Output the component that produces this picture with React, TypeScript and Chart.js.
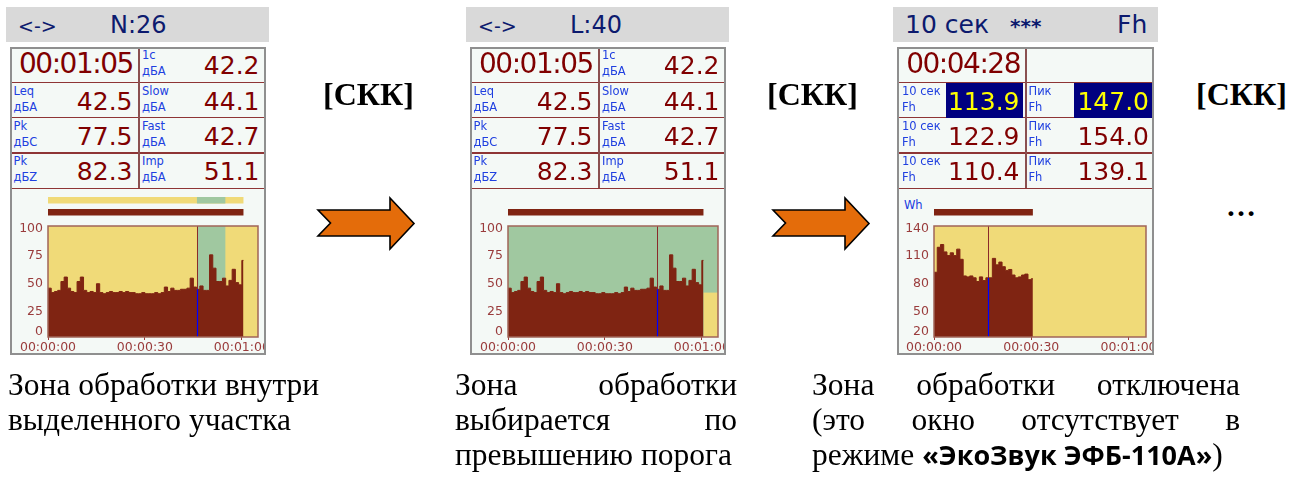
import React, { useEffect, useRef } from "react";
import { Chart, registerables } from "chart.js";

Chart.register(...registerables);

// ---------------- data ----------------
const SECONDS_A = [0, 1, 2, 3, 4, 5, 6, 7, 8, 9, 10, 11, 12, 13, 14, 15, 16, 17, 18, 19, 20, 21, 22, 23, 24, 25, 26, 27, 28, 29, 30, 31, 32, 33, 34, 35, 36, 37, 38, 39, 40, 41, 42, 43, 44, 45, 46, 47, 48, 49, 50, 51, 52, 53, 54, 55, 56, 57, 58, 59, 60];
const LEVELS_A = [44, 40, 41, 42, 50, 54, 44, 41, 40, 50, 54, 42, 40, 41, 40, 48, 40, 39, 40, 41, 40, 40, 41, 40, 41, 40, 40, 39, 39, 40, 39, 39, 39, 40, 39, 40, 45, 41, 44, 42, 42, 43, 43, 44, 53, 45, 43, 46, 42, 42, 74, 62, 50, 50, 53, 46, 51, 61, 49, 47, 69];
const END_A = 60.5;
const CURSOR_A = 46.1;
const ZONE_A = [46.1, 54.9];
const THRESHOLD_B = 40;
const X_MAX_A = 65;
const Y_TICKS_A = [0, 25, 50, 75, 100];

const SECONDS_C = [0, 1, 2, 3, 4, 5, 6, 7, 8, 9, 10, 11, 12, 13, 14, 15, 16, 17, 18, 19, 20, 21, 22, 23, 24, 25, 26, 27, 28, 29, 30];
const LEVELS_C = [90, 117, 120, 112, 108, 111, 108, 115, 104, 86, 85, 86, 84, 80, 85, 81, 84, 84, 105, 98, 101, 96, 92, 93, 87, 84, 85, 87, 88, 82, 83];
const END_C = 30.5;
const CURSOR_C = 16.7;
const X_MAX_C = 65.4;
const Y_TICKS_C = [20, 50, 80, 110, 140];

const X_TICKS = [0, 30, 60];
const X_TICK_LABELS = ["00:00:00", "00:00:30", "00:01:00"];

// table texts
const ROWS_A = [
  { l1: "Leq", l2: "дБА", v: "42.5", r1: "Slow", r2: "дБА", rv: "44.1" },
  { l1: "Pk", l2: "дБС", v: "77.5", r1: "Fast", r2: "дБА", rv: "42.7" },
  { l1: "Pk", l2: "дБZ", v: "82.3", r1: "Imp", r2: "дБА", rv: "51.1" },
];
const ROWS_C = [
  { l1: "10 сек", l2: "Fh", v: "113.9", r1: "Пик", r2: "Fh", rv: "147.0" },
  { l1: "10 сек", l2: "Fh", v: "122.9", r1: "Пик", r2: "Fh", rv: "154.0" },
  { l1: "10 сек", l2: "Fh", v: "110.4", r1: "Пик", r2: "Fh", rv: "139.1" },
];

// ---------------- styles ----------------
const SANS = '"DejaVu Sans", sans-serif';
const SERIF = '"Liberation Serif", "Times New Roman", serif';
const OSANS = '"Open Sans", sans-serif';
const PANEL_BG = "#F4F9F6";
const HEAD_BG = "#D9D9D9";
const NAVY = "#0C1A6E";
const MAROON = "#800000";
const BLUE = "#2040E0";
const RULE = "#8E3535";
const BORDER = "#8F8F8F";
const YELLOW = "#F0DA78";
const GREEN = "#A0C8A0";
const DARK = "#7F2412";
const AXIS = "#9A3C3C";
const PLOT_BORDER = "#A06458";

function Txt(p: any) {
  const { x, base, size, family = SANS, color = "#000", weight = 400, align = "left", ls, children } = p;
  const k = family === SERIF ? 0.8375 : family === OSANS ? 0.888 : 0.846;
  const style: any = {
    position: "absolute",
    top: base - size * k,
    fontFamily: family,
    fontSize: size,
    lineHeight: size + "px",
    color,
    fontWeight: weight,
    whiteSpace: "pre",
    letterSpacing: ls,
  };
  if (align === "right") {
    style.left = x - 400;
    style.width = 400;
    style.textAlign = "right";
  } else style.left = x;
  return <div style={style}>{children}</div>;
}

function Box(p: any) {
  const { x, y, w, h, bg, border } = p;
  return (
    <div
      style={{
        position: "absolute",
        left: x,
        top: y,
        width: w,
        height: h,
        background: bg,
        border,
        boxSizing: "border-box",
      }}
    />
  );
}

function Trend(p: any) {
  const ref = useRef<HTMLCanvasElement>(null);
  useEffect(() => {
    const { seconds, levels, end, cursor, yMin, yMax, yTicks, xMax, zones, bars, yAxisW, padRight } = p;
    const pts = seconds.map((s: number, i: number) => ({ x: s, y: levels[i] }));
    pts.push({ x: end, y: levels[levels.length - 1] });
    const cursorLevel = levels[Math.floor(cursor)];
    const plugin = {
      id: "panelDecor",
      beforeDatasetsDraw(chart: any) {
        const { ctx, chartArea: a, scales } = chart;
        const xs = scales.x, ys = scales.y;
        ctx.save();
        ctx.fillStyle = YELLOW;
        ctx.fillRect(a.left, a.top, a.right - a.left, a.bottom - a.top);
        for (const z of zones) {
          const x0 = xs.getPixelForValue(z.x0), x1 = xs.getPixelForValue(z.x1);
          const y0 = ys.getPixelForValue(z.y1), y1 = ys.getPixelForValue(z.y0);
          ctx.fillStyle = z.color;
          ctx.fillRect(x0, y0, x1 - x0, y1 - y0);
        }
        ctx.restore();
      },
      afterDatasetsDraw(chart: any) {
        const { ctx, chartArea: a, scales } = chart;
        const xs = scales.x, ys = scales.y;
        ctx.save();
        // cursor
        const cx = Math.round(xs.getPixelForValue(cursor)) + 0.5;
        const cy = ys.getPixelForValue(cursorLevel);
        ctx.lineWidth = 1;
        ctx.strokeStyle = "#8A2A2A";
        ctx.beginPath();
        ctx.moveTo(cx, a.top);
        ctx.lineTo(cx, cy);
        ctx.stroke();
        ctx.strokeStyle = "#0000FF";
        ctx.lineWidth = 1.2;
        ctx.beginPath();
        ctx.moveTo(cx, cy);
        ctx.lineTo(cx, a.bottom);
        ctx.stroke();
        // plot border
        ctx.strokeStyle = PLOT_BORDER;
        ctx.lineWidth = 1.5;
        ctx.strokeRect(a.left, a.top, a.right - a.left, a.bottom - a.top);
        // overview bars
        for (const b of bars) {
          const x0 = xs.getPixelForValue(b.x0), x1 = xs.getPixelForValue(b.x1);
          const top = a.top - (b.row === 0 ? 29 : 17);
          ctx.fillStyle = b.color;
          ctx.fillRect(x0, top, x1 - x0, 6.5);
        }
        // y labels
        ctx.fillStyle = AXIS;
        ctx.font = '12.5px "DejaVu Sans"';
        ctx.textAlign = "right";
        ctx.textBaseline = "middle";
        for (const v of yTicks) {
          const py = Math.min(ys.getPixelForValue(v) + 2.3, a.bottom - 5);
          ctx.fillText(String(v), a.left - 5, py);
        }
        ctx.restore();
      },
    };
    const chart = new Chart(ref.current as HTMLCanvasElement, {
      type: "line",
      data: {
        datasets: [
          {
            data: pts,
            stepped: true,
            fill: "start",
            backgroundColor: DARK,
            borderColor: DARK,
            borderWidth: 1,
            pointRadius: 0,
          } as any,
        ],
      },
      options: {
        responsive: false,
        animation: false,
        devicePixelRatio: 1,
        events: [],
        layout: { padding: { top: 36, right: padRight, left: 0, bottom: 0 } },
        plugins: { legend: { display: false }, tooltip: { enabled: false } },
        scales: {
          x: {
            type: "linear",
            min: 0,
            max: xMax,
            afterBuildTicks: (s: any) => {
              s.ticks = X_TICKS.map((v) => ({ value: v }));
            },
            ticks: {
              autoSkip: false,
              maxRotation: 0,
              minRotation: 0,
              padding: 0,
              color: AXIS,
              font: { family: "DejaVu Sans", size: 12.5 },
              callback: (v: any) => X_TICK_LABELS[X_TICKS.indexOf(Number(v))],
            },
            grid: { drawOnChartArea: false, drawTicks: true, tickLength: 3, color: AXIS },
            border: { display: false },
            afterFit: (s: any) => {
              s.height = 17;
              s.paddingLeft = 0;
              s.paddingRight = 0;
            },
          },
          y: {
            type: "linear",
            min: yMin,
            max: yMax,
            ticks: { display: false },
            grid: { display: false },
            border: { display: false },
            afterFit: (s: any) => {
              s.width = yAxisW;
              s.paddingTop = 0;
              s.paddingBottom = 0;
            },
          },
        },
      } as any,
      plugins: [plugin],
    });
    return () => chart.destroy();
  }, []);
  return (
    <canvas
      ref={ref}
      width={p.width}
      height={p.height}
      style={{ position: "absolute", left: p.left, top: p.top, width: p.width, height: p.height }}
    />
  );
}

function Labels2({ x, rowTop, a, b }: any) {
  return (
    <>
      <Txt x={x} base={rowTop + 12.8} size={11.5} color={BLUE}>{a}</Txt>
      <Txt x={x} base={rowTop + 29} size={11.5} color={BLUE}>{b}</Txt>
    </>
  );
}

const ROW_TOPS = [47, 82.5, 117.5, 153];
const ROW_BASES = [74, 110, 145, 180];

function TableFrame({ L, W }: any) {
  return (
    <>
      <Box x={L} y={47} w={W} h={308} bg={PANEL_BG} />
      {[81.75, 116.75, 152, 187.5].map((y, i) => (
        <div key={i} style={{ position: "absolute", left: L, top: y, width: W, height: 1.5, background: RULE }} />
      ))}
      <div style={{ position: "absolute", left: L + 128.2, top: 48, width: 1.5, height: 140, background: "#8A5050" }} />
    </>
  );
}

function Border({ L, W }: any) {
  return <Box x={L} y={47} w={W} h={308} border={`2px solid ${BORDER}`} />;
}

function PanelA({ L, head, bZone }: any) {
  const W = 256;
  return (
    <>
      <Box x={L - 4} y={7} w={263} h={35} bg={HEAD_BG} />
      <Txt x={L + 8} base={33} size={19} color={NAVY}>{"<->"}</Txt>
      <Txt x={L + 100} base={33.3} size={24} color={NAVY}>{head}</Txt>
      <TableFrame L={L} W={W} />
      <Txt x={L + 122.8} base={ROW_BASES[0]} size={28} color={MAROON} align="right" ls={-1.5}>{"00:01:05"}</Txt>
      <Labels2 x={L + 132} rowTop={ROW_TOPS[0]} a="1c" b="дБА" />
      <Txt x={L + 249.5} base={ROW_BASES[0]} size={25} color={MAROON} align="right">{"42.2"}</Txt>
      {ROWS_A.map((r, i) => (
        <React.Fragment key={i}>
          <Labels2 x={L + 3.5} rowTop={ROW_TOPS[i + 1]} a={r.l1} b={r.l2} />
          <Txt x={L + 122.5} base={ROW_BASES[i + 1]} size={25} color={MAROON} align="right">{r.v}</Txt>
          <Labels2 x={L + 132} rowTop={ROW_TOPS[i + 1]} a={r.r1} b={r.r2} />
          <Txt x={L + 249.5} base={ROW_BASES[i + 1]} size={25} color={MAROON} align="right">{r.rv}</Txt>
        </React.Fragment>
      ))}
      <Trend
        left={L}
        top={190}
        width={W}
        height={164}
        yAxisW={38}
        padRight={8}
        seconds={SECONDS_A}
        levels={LEVELS_A}
        end={END_A}
        cursor={CURSOR_A}
        yMin={0}
        yMax={100}
        yTicks={Y_TICKS_A}
        xMax={X_MAX_A}
        zones={
          bZone
            ? [
                { x0: 0, x1: X_MAX_A, y0: 0, y1: 100, color: GREEN },
                { x0: END_A, x1: X_MAX_A, y0: 0, y1: THRESHOLD_B, color: YELLOW },
              ]
            : [{ x0: ZONE_A[0], x1: ZONE_A[1], y0: 0, y1: 100, color: GREEN }]
        }
        bars={
          bZone
            ? [{ x0: 0, x1: END_A, row: 1, color: DARK }]
            : [
                { x0: 0, x1: END_A, row: 0, color: YELLOW },
                { x0: ZONE_A[0], x1: ZONE_A[1], row: 0, color: GREEN },
                { x0: 0, x1: END_A, row: 1, color: DARK },
              ]
        }
      />
      <Border L={L} W={W} />
    </>
  );
}

function PanelC({ L }: any) {
  const W = 257;
  return (
    <>
      <Box x={L - 4} y={7} w={265} h={35} bg={HEAD_BG} />
      <Txt x={L + 8} base={33.3} size={25} color={NAVY}>{"10 сек"}</Txt>
      <Txt x={L + 113} base={33.3} size={20} color={NAVY} weight={700}>{"***"}</Txt>
      <Txt x={L + 220} base={33.3} size={25} color={NAVY}>{"Fh"}</Txt>
      <TableFrame L={L} W={W} />
      <Box x={L + 48.5} y={83} w={77} h={34.5} bg="#000080" />
      <Box x={L + 177} y={83} w={78} h={34.5} bg="#000080" />
      <Txt x={L + 123} base={ROW_BASES[0]} size={28} color={MAROON} align="right" ls={-1.5}>{"00:04:28"}</Txt>
      {ROWS_C.map((r, i) => (
        <React.Fragment key={i}>
          <Labels2 x={L + 5} rowTop={ROW_TOPS[i + 1]} a={r.l1} b={r.l2} />
          <Txt x={L + 122.5} base={ROW_BASES[i + 1]} size={25} color={i === 0 ? "#FFFF00" : MAROON} align="right">{r.v}</Txt>
          <Labels2 x={L + 131.5} rowTop={ROW_TOPS[i + 1]} a={r.r1} b={r.r2} />
          <Txt x={L + 252} base={ROW_BASES[i + 1]} size={25} color={i === 0 ? "#FFFF00" : MAROON} align="right">{r.rv}</Txt>
        </React.Fragment>
      ))}
      <Txt x={L + 7} base={210} size={11.5} color={BLUE}>{"Wh"}</Txt>
      <Trend
        left={L}
        top={190}
        width={W}
        height={164}
        yAxisW={37}
        padRight={8}
        seconds={SECONDS_C}
        levels={LEVELS_C}
        end={END_C}
        cursor={CURSOR_C}
        yMin={20}
        yMax={140}
        yTicks={Y_TICKS_C}
        xMax={X_MAX_C}
        zones={[]}
        bars={[{ x0: 0, x1: END_C, row: 1, color: DARK }]}
      />
      <Border L={L} W={W} />
    </>
  );
}

function Arrow({ dx }: any) {
  const pts = [
    [318, 210], [390, 210], [390, 198], [414, 223.5], [390, 249], [390, 236], [318, 236], [330.5, 223],
  ]
    .map(([x, y]) => `${x + dx},${y}`)
    .join(" ");
  return <polygon points={pts} fill="#E46C0A" stroke="#000" strokeWidth={1.6} strokeLinejoin="miter" />;
}

function Justified({ x, w, base, words, size }: any) {
  return (
    <div
      style={{
        position: "absolute",
        left: x,
        width: w,
        top: base - size * 0.8375,
        display: "flex",
        justifyContent: "space-between",
        fontFamily: SERIF,
        fontSize: size,
        lineHeight: size + "px",
        color: "#000",
        whiteSpace: "pre",
      }}
    >
      {words.map((t: string, i: number) => (
        <span key={i}>{t}</span>
      ))}
    </div>
  );
}

export default function App() {
  const FS = 31.5;
  const B1 = 395, B2 = 430, B3 = 465;
  return (
    <div style={{ position: "absolute", left: 0, top: 0, width: 1290, height: 478, background: "#fff", overflow: "hidden" }}>
      <PanelA L={10} head="N:26" bZone={false} />
      <PanelA L={470} head="L:40" bZone={true} />
      <PanelC L={897} />

      <Txt x={323} base={105} size={32} family={SERIF} weight={700}>{"[СКК]"}</Txt>
      <Txt x={767} base={105} size={32} family={SERIF} weight={700}>{"[СКК]"}</Txt>
      <Txt x={1196} base={105} size={32} family={SERIF} weight={700}>{"[СКК]"}</Txt>
      <Txt x={1226} base={216} size={30} family={SERIF} weight={700}>{"…"}</Txt>

      <svg width={1290} height={478} style={{ position: "absolute", left: 0, top: 0 }}>
        <Arrow dx={0} />
        <Arrow dx={455} />
      </svg>

      <Txt x={8} base={B1} size={FS} family={SERIF}>{"Зона обработки внутри"}</Txt>
      <Txt x={8} base={B2} size={FS} family={SERIF}>{"выделенного участка"}</Txt>

      <Justified x={455} w={282} base={B1} size={FS} words={["Зона", "обработки"]} />
      <Justified x={455} w={282} base={B2} size={FS} words={["выбирается", "по"]} />
      <Txt x={455} base={B3} size={FS} family={SERIF}>{"превышению порога"}</Txt>

      <Justified x={812} w={428} base={B1} size={FS} words={["Зона", "обработки", "отключена"]} />
      <Justified x={812} w={428} base={B2} size={FS} words={["(это", "окно", "отсутствует", "в"]} />
      <div
        style={{
          position: "absolute",
          left: 812,
          top: B3 - FS * 0.8375,
          fontFamily: SERIF,
          fontSize: FS,
          lineHeight: FS + "px",
          whiteSpace: "pre",
          color: "#000",
        }}
      >
        {"режиме "}
        <span style={{ fontFamily: OSANS, fontWeight: 700, fontSize: 27 }}>{"«ЭкоЗвук ЭФБ-110А»"}</span>
        {")"}
      </div>
    </div>
  );
}
